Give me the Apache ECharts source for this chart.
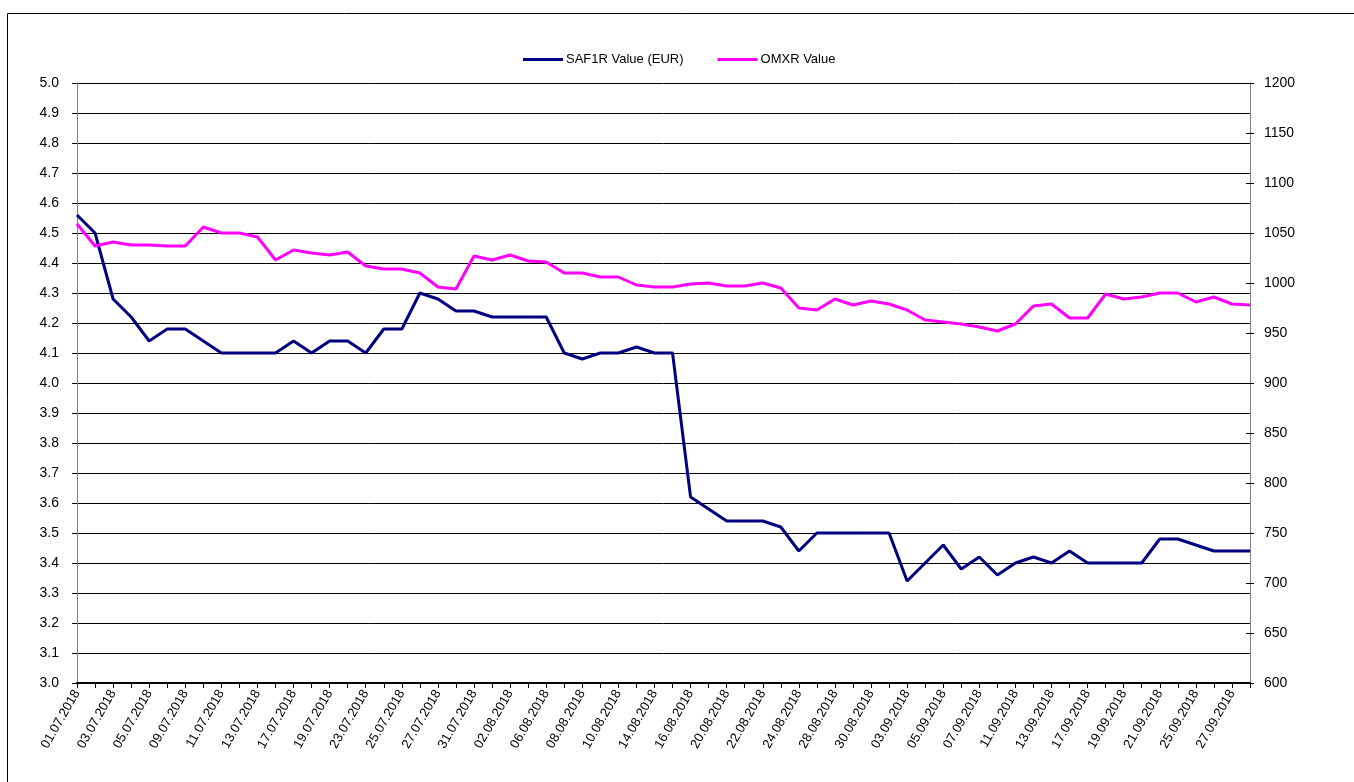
<!DOCTYPE html>
<html lang="en">
<head>
    <meta charset="UTF-8" />
    <title>SAF1R vs OMXR</title>
    <script src="https://cdn.jsdelivr.net/npm/echarts@6/dist/echarts.min.js"></script>
    <style>
        html, body { margin: 0; padding: 0; background: #fff; }
    </style>
</head>
<body>
    <div id="main" style="width:1354px;height:782px;"></div>
    <script type="text/javascript">
        // trading days, Jul - Sep 2018
        var dates = ['01.07.2018', '02.07.2018', '03.07.2018', '04.07.2018', '05.07.2018', '06.07.2018',
            '09.07.2018', '10.07.2018', '11.07.2018', '12.07.2018', '13.07.2018',
            '16.07.2018', '17.07.2018', '18.07.2018', '19.07.2018', '20.07.2018',
            '23.07.2018', '24.07.2018', '25.07.2018', '26.07.2018', '27.07.2018',
            '30.07.2018', '31.07.2018', '01.08.2018', '02.08.2018', '03.08.2018',
            '06.08.2018', '07.08.2018', '08.08.2018', '09.08.2018', '10.08.2018',
            '13.08.2018', '14.08.2018', '15.08.2018', '16.08.2018', '17.08.2018',
            '20.08.2018', '21.08.2018', '22.08.2018', '23.08.2018', '24.08.2018',
            '27.08.2018', '28.08.2018', '29.08.2018', '30.08.2018', '31.08.2018',
            '03.09.2018', '04.09.2018', '05.09.2018', '06.09.2018', '07.09.2018',
            '10.09.2018', '11.09.2018', '12.09.2018', '13.09.2018', '14.09.2018',
            '17.09.2018', '18.09.2018', '19.09.2018', '20.09.2018', '21.09.2018',
            '24.09.2018', '25.09.2018', '26.09.2018', '27.09.2018', '28.09.2018'];

        var saf1r = [4.56, 4.50, 4.28, 4.22, 4.14, 4.18, 4.18, 4.14, 4.10, 4.10, 4.10,
            4.10, 4.14, 4.10, 4.14, 4.14, 4.10, 4.18, 4.18, 4.30, 4.28,
            4.24, 4.24, 4.22, 4.22, 4.22, 4.22, 4.10, 4.08, 4.10, 4.10,
            4.12, 4.10, 4.10, 3.62, 3.58, 3.54, 3.54, 3.54, 3.52, 3.44,
            3.50, 3.50, 3.50, 3.50, 3.50, 3.34, 3.40, 3.46, 3.38, 3.42,
            3.36, 3.40, 3.42, 3.40, 3.44, 3.40, 3.40, 3.40, 3.40, 3.48,
            3.48, 3.46, 3.44, 3.44, 3.44];

        var omxr = [1059, 1037, 1041, 1038, 1038, 1037, 1037, 1056, 1050, 1050, 1046,
            1023, 1033, 1030, 1028, 1031, 1017, 1014, 1014, 1010, 996,
            994, 1027, 1023, 1028, 1022, 1021, 1010, 1010, 1006, 1006,
            998, 996, 996, 999, 1000, 997, 997, 1000, 995, 975,
            973, 984, 978, 982, 979, 973, 963, 961, 959, 956,
            952, 959, 977, 979, 965, 965, 989, 984, 986, 990,
            990, 981, 986, 979, 978];

        var chart = echarts.init(document.getElementById('main'));
        var font = 'Liberation Sans, Arial, sans-serif';

        var option = {
            backgroundColor: '#fff',
            animation: false,
            // outer chart frame
            graphic: [{
                type: 'rect',
                shape: { x: 7.5, y: 13.5, width: 1400, height: 800 },
                style: { fill: 'none', stroke: '#000', lineWidth: 1 }
            }],
            legend: {
                top: 48,
                left: 518,
                itemGap: 34,
                itemWidth: 40,
                itemHeight: 3,
                icon: 'rect',
                textStyle: { fontFamily: font, fontSize: 13, color: '#000', padding: [0, 0, 0, -2] },
                data: ['SAF1R Value (EUR)', 'OMXR Value']
            },
            grid: {
                left: 77,
                right: 104,
                top: 83,
                bottom: 99
            },
            xAxis: {
                type: 'category',
                boundaryGap: false,
                data: dates,
                axisLine: { lineStyle: { color: '#000', width: 2 } },
                axisTick: { show: true, interval: 0, length: 5, lineStyle: { color: '#000' } },
                axisLabel: {
                    interval: 1,
                    rotate: 60,
                    fontFamily: font,
                    fontSize: 13,
                    color: '#000',
                    margin: 8
                },
                splitLine: { show: false }
            },
            yAxis: [{
                type: 'value',
                min: 3,
                max: 5,
                interval: 0.1,
                position: 'left',
                axisLine: { show: true, lineStyle: { color: '#808080' } },
                axisTick: { show: true, length: 5, lineStyle: { color: '#000' } },
                axisLabel: {
                    fontFamily: font, fontSize: 14, color: '#000', margin: 18,
                    formatter: function (v) { return v.toFixed(1); }
                },
                splitLine: { show: true, lineStyle: { color: '#000', width: 1 } }
            }, {
                type: 'value',
                min: 600,
                max: 1200,
                interval: 50,
                position: 'right',
                axisLine: { show: true, lineStyle: { color: '#808080' } },
                axisTick: { show: true, length: 4, lineStyle: { color: '#000' } },
                axisLabel: {
                    fontFamily: font, fontSize: 14, color: '#000', margin: 14,
                    formatter: function (v) { return String(v); }
                },
                splitLine: { show: false }
            }, {
                // inner half of the right axis cross ticks
                type: 'value',
                min: 600,
                max: 1200,
                interval: 50,
                position: 'right',
                axisLine: { show: false },
                axisTick: { show: true, inside: true, length: 4, lineStyle: { color: '#000' } },
                axisLabel: { show: false },
                splitLine: { show: false }
            }],
            series: [{
                name: 'SAF1R Value (EUR)',
                type: 'line',
                yAxisIndex: 0,
                data: saf1r,
                showSymbol: false,
                symbol: 'none',
                lineStyle: { color: '#000080', width: 3 },
                itemStyle: { color: '#000080' }
            }, {
                name: 'OMXR Value',
                type: 'line',
                yAxisIndex: 1,
                data: omxr,
                showSymbol: false,
                symbol: 'none',
                lineStyle: { color: '#FF00FF', width: 3 },
                itemStyle: { color: '#FF00FF' }
            }]
        };

        chart.setOption(option);
    </script>
</body>
</html>
